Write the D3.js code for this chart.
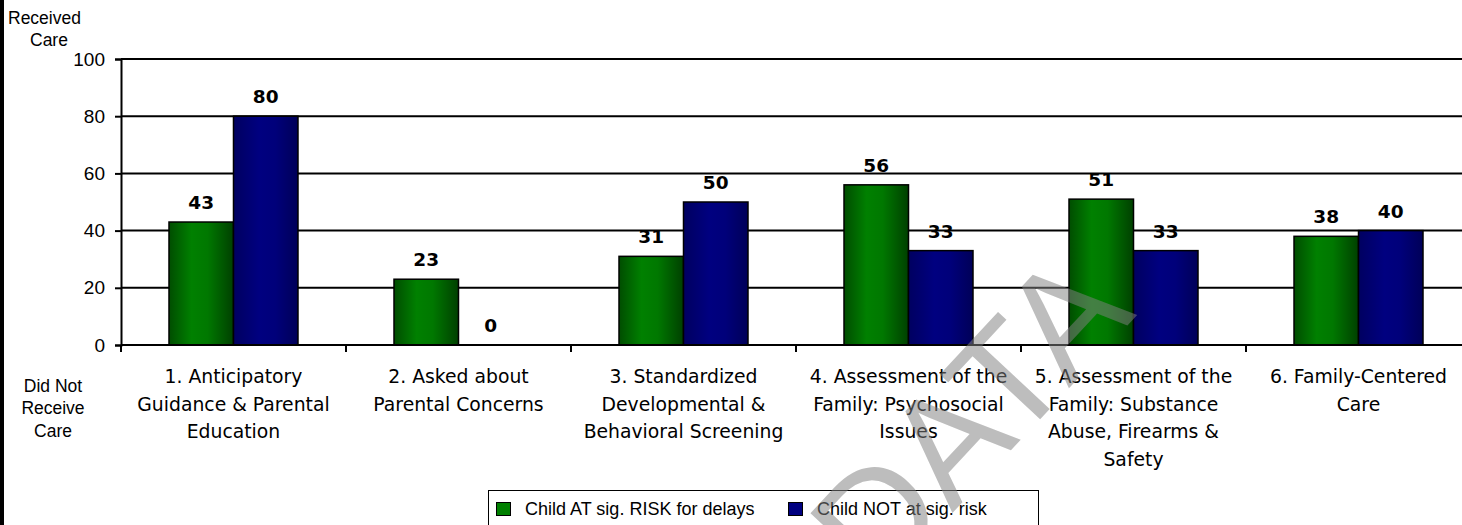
<!DOCTYPE html>
<html>
<head>
<meta charset="utf-8">
<script src="https://cdn.jsdelivr.net/npm/d3@7/dist/d3.min.js"></script>
<style>
  html, body { margin: 0; padding: 0; background: #fff; }
  svg { display: block; }
</style>
</head>
<body>
<svg id="chart" width="1462" height="525"></svg>
<script>
// Categories (one entry per line of the wrapped axis label)
const categories = [
  ["1. Anticipatory", "Guidance & Parental", "Education"],
  ["2. Asked about", "Parental Concerns"],
  ["3. Standardized", "Developmental &", "Behavioral Screening"],
  ["4. Assessment of the", "Family: Psychosocial", "Issues"],
  ["5. Assessment of the", "Family: Substance", "Abuse, Firearms &", "Safety"],
  ["6. Family-Centered", "Care"]
];
const seriesNames = ["Child AT sig. RISK for delays", "Child NOT at sig. risk"];
const atRisk  = [43, 23, 31, 56, 51, 38];
const notRisk = [80, 0, 50, 33, 33, 40];
const yTicks = [0, 20, 40, 60, 80, 100];

const svg = d3.select("#chart");
const W = 1462, H = 525;

// plot frame
const plotL = 121, plotR = 1471, plotT = 59, plotB = 345;

const catIds = categories.map((c, i) => i);
const x = d3.scaleBand().domain(catIds).range([plotL, plotR])
  .paddingInner(0.4267).paddingOuter(0.2133);
const x1 = d3.scaleBand().domain([0, 1]).range([0, x.bandwidth()]);
const y = d3.scaleLinear().domain([0, 100]).range([plotB, plotT]);

// bar gradients: darker at both edges, brightest left of centre
const defs = svg.append("defs");
const grads = [
  { id: "gGreen", stops: [["0%", "#004d00"], ["35%", "#008000"], ["60%", "#007800"], ["100%", "#004000"]] },
  { id: "gBlue",  stops: [["0%", "#000060"], ["40%", "#000080"], ["65%", "#00007a"], ["100%", "#000058"]] }
];
grads.forEach(g => {
  const lgr = defs.append("linearGradient").attr("id", g.id)
    .attr("x1", "0%").attr("x2", "100%").attr("y1", "0%").attr("y2", "0%");
  g.stops.forEach(s => lgr.append("stop").attr("offset", s[0]).attr("stop-color", s[1]));
});
const fills = ["url(#gGreen)", "url(#gBlue)"];
const swatch = ["#008000", "#000080"];

// left edge strip
svg.append("rect").attr("x", 0).attr("y", 0).attr("width", 4).attr("height", H).attr("fill", "#000");

// gridlines
svg.append("g").selectAll("line").data(yTicks.filter(t => t > 0)).join("line")
  .attr("x1", plotL).attr("x2", W)
  .attr("y1", d => y(d)).attr("y2", d => y(d))
  .attr("stroke", "#000").attr("stroke-width", 2);

// y axis
const yAxis = d3.axisLeft(y).tickValues(yTicks).tickSize(6).tickPadding(10);
const gy = svg.append("g").attr("transform", `translate(${plotL},0)`).call(yAxis);
gy.select(".domain").attr("stroke", "#000").attr("stroke-width", 2);
gy.selectAll(".tick line").attr("stroke", "#000").attr("stroke-width", 2);
gy.selectAll(".tick text")
  .attr("font-family", "'Liberation Sans', Arial, sans-serif")
  .attr("font-size", 19).attr("fill", "#000");

// bars
const groups = svg.append("g").selectAll("g").data(catIds).join("g")
  .attr("transform", d => `translate(${x(d)},0)`);
groups.selectAll("rect")
  .data(d => [atRisk[d], notRisk[d]].map((v, s) => ({ v, s })))
  .join("rect")
  .attr("x", d => x1(d.s))
  .attr("width", x1.bandwidth())
  .attr("y", d => y(d.v))
  .attr("height", d => y(0) - y(d.v))
  .attr("fill", d => fills[d.s])
  .attr("stroke", "#000").attr("stroke-width", d => d.v > 0 ? 1.5 : 0);

// value labels
groups.selectAll("text")
  .data(d => [atRisk[d], notRisk[d]].map((v, s) => ({ v, s })))
  .join("text")
  .attr("x", d => x1(d.s) + x1.bandwidth() / 2)
  .attr("y", d => y(d.v) - 13)
  .attr("text-anchor", "middle")
  .attr("font-family", "'DejaVu Sans', Verdana, sans-serif")
  .attr("font-weight", "bold").attr("font-size", 18.5).attr("fill", "#000")
  .text(d => d.v);

// x axis baseline and category boundary ticks
svg.append("line").attr("x1", plotL).attr("x2", W).attr("y1", y(0)).attr("y2", y(0))
  .attr("stroke", "#000").attr("stroke-width", 2);
const bounds = d3.range(categories.length + 1).map(i => plotL + i * x.step());
svg.append("g").selectAll("line").data(bounds).join("line")
  .attr("x1", d => d).attr("x2", d => d)
  .attr("y1", y(0)).attr("y2", y(0) + 7)
  .attr("stroke", "#000").attr("stroke-width", 2);

// category labels
const cat = svg.append("g").selectAll("text").data(catIds).join("text")
  .attr("text-anchor", "middle")
  .attr("font-family", "'DejaVu Sans', Verdana, sans-serif")
  .attr("font-size", 18.8).attr("fill", "#000");
cat.selectAll("tspan").data(d => categories[d].map(t => ({ t, c: d }))).join("tspan")
  .attr("x", d => x(d.c) + x.bandwidth() / 2)
  .attr("y", (d, i) => 382.7 + i * 27.8)
  .text(d => d.t);

// axis end captions
const side = "'Liberation Sans', Arial, sans-serif";
svg.append("text").attr("font-family", side).attr("font-size", 17.5).attr("fill", "#000")
  .selectAll("tspan").data(["Received", "Care"]).join("tspan")
  .attr("x", (d, i) => i === 0 ? 8 : 30).attr("y", (d, i) => 24 + i * 21.5).text(d => d);
svg.append("text").attr("font-family", side).attr("font-size", 17.5).attr("fill", "#000")
  .attr("text-anchor", "middle")
  .selectAll("tspan").data(["Did Not", "Receive", "Care"]).join("tspan")
  .attr("x", 53).attr("y", (d, i) => 391.5 + i * 22.5).text(d => d);

// legend
const lg = svg.append("g");
lg.append("rect").attr("x", 488.5).attr("y", 490.5).attr("width", 550).attr("height", 60)
  .attr("fill", "#fff").attr("stroke", "#000").attr("stroke-width", 1);
const legendX = [496, 788];
seriesNames.forEach((name, i) => {
  lg.append("rect").attr("x", legendX[i] + 0.5).attr("y", 502.5).attr("width", 14).attr("height", 13)
    .attr("fill", swatch[i]).attr("stroke", "#000").attr("stroke-width", 1);
  lg.append("text").attr("x", legendX[i] + 29).attr("y", 515)
    .attr("font-family", side).attr("font-size", 18).attr("fill", "#000").text(name);
});

// diagonal watermark
svg.append("text")
  .attr("transform", "translate(878,593) rotate(-47)")
  .attr("font-family", side).attr("font-size", 151)
  .attr("fill", "rgba(128,128,128,0.52)")
  .text("DATA");
</script>
</body>
</html>
